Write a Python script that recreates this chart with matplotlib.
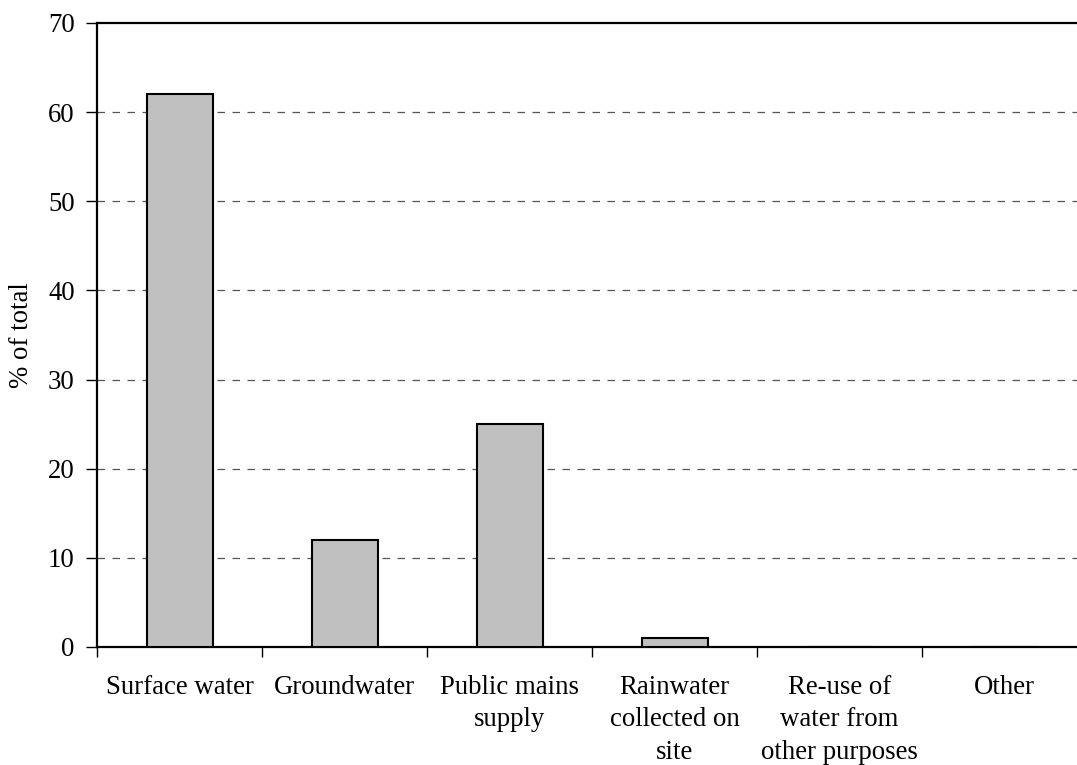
import numpy as np
import matplotlib.pyplot as plt

# water sources, share of total
categories = ["Surface water", "Groundwater", "Public mains\nsupply",
              "Rainwater\ncollected on\nsite", "Re-use of\nwater from\nother purposes",
              "Other"]
values = [62, 12, 25, 1, 0, 0]
yticks = [0, 10, 20, 30, 40, 50, 60, 70]

plt.rcParams['font.family'] = ['Liberation Serif', 'DejaVu Serif']
plt.rcParams['font.size'] = 19.3

fig = plt.figure(figsize=(10.77, 7.65), dpi=100)
ax = fig.add_axes([97/1077, 118/765, 990/1077, 624/765])

x = np.arange(len(categories))
ax.bar(x, values, width=0.4, color='#c0c0c0', edgecolor='black', linewidth=1.5, zorder=3)

ax.set_xlim(-0.5, len(categories) - 0.5)
ax.set_ylim(0, 70)
ax.set_yticks(yticks)
for y in yticks[1:-1]:
    ax.axhline(y, color='#555555', lw=0.9, ls=(0, (6, 6)), zorder=1)

# category ticks sit between the bars
ax.set_xticks(np.arange(len(categories) + 1) - 0.5)
ax.set_xticklabels([])
ax.set_xticks(x, minor=True)
ax.set_xticklabels(categories, minor=True, linespacing=1.4)
ax.tick_params(axis='x', which='minor', length=0, pad=20)
ax.tick_params(axis='x', which='major', length=7, width=1, direction='out')
ax.tick_params(axis='y', length=8, width=1, direction='out', pad=8)

for s in ['left', 'bottom', 'top']:
    ax.spines[s].set_linewidth(1.6)
ax.spines['right'].set_visible(False)

ax.set_ylabel("% of total")
ax.yaxis.set_label_coords(-0.064, 0.5)

fig.savefig("out.png", dpi=100)
